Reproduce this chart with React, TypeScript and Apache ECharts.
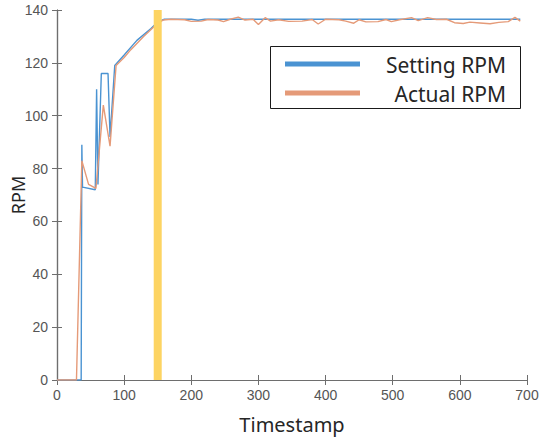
import React, { useEffect, useRef } from "react";
import * as echarts from "echarts";

const seriesNames = ["Setting RPM", "Actual RPM"];
const xTicks = [0, 100, 200, 300, 400, 500, 600, 700];
const yTicks = [0, 20, 40, 60, 80, 100, 120, 140];
const markerTimestamp = 150;

const settingRpm: [number, number][] = [
  [0, 0], [36, 0], [37, 89], [38, 73], [57, 72], [59, 110], [61, 74], [66, 116],
  [76, 116], [79, 92], [86, 119], [100, 123], [119, 128.5], [140, 133], [150, 135.5],
  [160, 136.5], [200, 136.5], [210, 136.1], [220, 136.5], [300, 136.5], [400, 136.5],
  [500, 136.5], [600, 136.5], [690, 136.5],
];

const actualRpm: [number, number][] = [
  [0, 0], [29, 0], [37, 83], [47, 74], [58, 72.5], [69, 104], [79, 88.5], [88, 119],
  [100, 122], [110, 125], [129, 130], [146, 134], [158, 136.2], [170, 136.5], [190, 136.3],
  [200, 135.7], [215, 135.8], [225, 136.4], [240, 136.2], [248, 135.6], [258, 136.5],
  [270, 137.3], [280, 136.2], [292, 136.5], [300, 134.5], [310, 137.1], [318, 135.8],
  [330, 136.3], [345, 135.7], [365, 135.8], [380, 136.4], [389, 134.7], [400, 136.5],
  [420, 136.3], [430, 135.8], [442, 135], [450, 136.3], [460, 135.5], [478, 135.6],
  [490, 136.4], [498, 135.6], [510, 136.3], [528, 137.1], [538, 136], [552, 137.1],
  [565, 136.4], [580, 136.5], [592, 135.2], [605, 134.9], [615, 135.4], [630, 135.1],
  [645, 134.8], [658, 135.3], [672, 135.6], [682, 137.2], [690, 135.8],
];

const colors = ["#4a93d2", "#e59a78"];
const axisColor = "#6e6e6e";
const labelColor = "#555555";

export default function App() {
  const ref = useRef<HTMLDivElement>(null);
  useEffect(() => {
    if (!ref.current) return;
    const chart = echarts.init(ref.current, null, { renderer: "svg" });
    const xMin = xTicks[0];
    const xMax = xTicks[xTicks.length - 1];
    const xInt = xTicks[1] - xTicks[0];
    const yMin = yTicks[0];
    const yMax = yTicks[yTicks.length - 1];
    const yInt = yTicks[1] - yTicks[0];
    const commonAxis = {
      axisLine: { show: true, lineStyle: { color: axisColor, width: 1.2 } },
      axisTick: { show: true, inside: true, length: 5, lineStyle: { color: axisColor } },
      splitLine: { show: false },
    };
    const legendX = 270, legendY = 46, legendW = 250, legendH = 62;
    chart.setOption({
      animation: false,
      grid: { left: 57, right: 12, top: 10, bottom: 57, containLabel: false, outerBoundsMode: "none" },
      xAxis: [
        {
          type: "value", min: xMin, max: xMax, interval: xInt, position: "bottom",
          name: "Timestamp", nameLocation: "middle", nameGap: 34, nameMoveOverlap: false,
          nameTextStyle: { fontFamily: "Noto Sans", fontSize: 20, color: "#262626" },
          axisLabel: { color: labelColor, fontFamily: "Liberation Sans", fontSize: 14, margin: 8 },
          ...commonAxis,
        },
        {
          type: "value", min: xMin, max: xMax, interval: xInt, position: "top",
          axisLabel: { show: false }, ...commonAxis,
        },
      ],
      yAxis: [
        {
          type: "value", min: yMin, max: yMax, interval: yInt, position: "left",
          name: "RPM", nameLocation: "middle", nameGap: 30, nameMoveOverlap: false,
          nameTextStyle: { fontFamily: "Noto Sans", fontSize: 18, color: "#262626" },
          axisLabel: { color: labelColor, fontFamily: "Liberation Sans", fontSize: 14, margin: 9 },
          ...commonAxis,
        },
        {
          type: "value", min: yMin, max: yMax, interval: yInt, position: "right",
          axisLabel: { show: false }, ...commonAxis,
        },
      ],
      series: [
        {
          name: seriesNames[0], type: "line", data: settingRpm, showSymbol: false,
          lineStyle: { color: colors[0], width: 1.4 }, itemStyle: { color: colors[0] },
        },
        {
          name: seriesNames[1], type: "line", data: actualRpm, showSymbol: false,
          lineStyle: { color: colors[1], width: 1.4 }, itemStyle: { color: colors[1] },
        },
        {
          name: "marker", type: "line", data: [[markerTimestamp, yMin], [markerTimestamp, yMax]],
          showSymbol: false, lineStyle: { color: "#fdd462", width: 8, cap: "butt" },
          silent: true,
        },
      ],
      graphic: [
        {
          type: "rect", left: legendX, top: legendY, z: 100,
          shape: { width: legendW, height: legendH },
          style: { fill: "#ffffff", stroke: "#1a1a1a", lineWidth: 1 },
        },
        ...seriesNames.flatMap((n, i) => [
          {
            type: "line", z: 101,
            shape: { x1: legendX + 15, y1: legendY + 18 + i * 29, x2: legendX + 90, y2: legendY + 18 + i * 29 },
            style: { stroke: colors[i], lineWidth: 5 },
          },
          {
            type: "text", z: 101, x: legendX + 236, y: legendY + 19 + i * 29,
            style: {
              text: n, fill: "#262626", font: "21px 'Noto Sans'",
              align: "right", verticalAlign: "middle",
            },
          },
        ]),
      ],
    });
    return () => chart.dispose();
  }, []);
  return (
    <div
      ref={ref}
      style={{ position: "absolute", left: 0, top: 0, width: 539, height: 437, background: "#fff" }}
    />
  );
}
